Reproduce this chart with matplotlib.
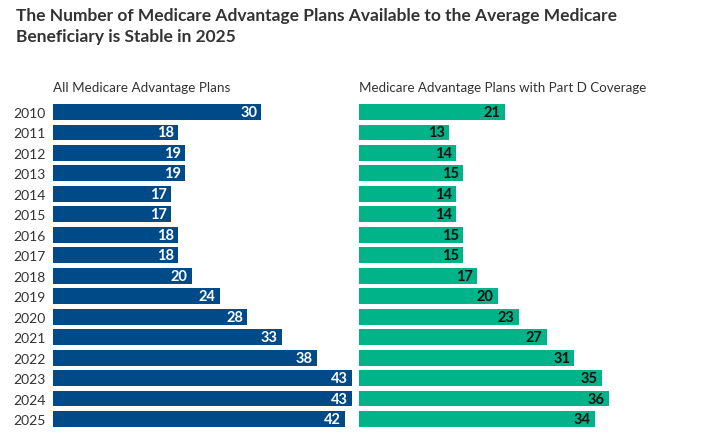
import matplotlib
matplotlib.use("Agg")
import matplotlib.pyplot as plt

plt.rcParams['font.family'] = ['Lato', 'DejaVu Sans']

years = [str(y) for y in range(2010, 2026)]
all_plans = [30, 18, 19, 19, 17, 17, 18, 18, 20, 24, 28, 33, 38, 43, 43, 42]
partd_plans = [21, 13, 14, 15, 14, 14, 15, 15, 17, 20, 23, 27, 31, 35, 36, 34]

navy = '#004a87'
teal = '#00b388'
text_col = '#333333'

W, H = 715, 439
fig = plt.figure(figsize=(W / 100, H / 100), dpi=100)

top = 1 - 102.8 / H
bot = 1 - 430.2 / H
ax1 = fig.add_axes([53 / W, bot, 300 / W, top - bot])
ax2 = fig.add_axes([359 / W, bot, 300 / W, top - bot])

xmax = 43.2
for ax, vals, col, lab_col, sub, fs in [
    (ax1, all_plans, navy, 'white', 'All Medicare Advantage Plans', 9.7),
    (ax2, partd_plans, teal, '#111111', 'Medicare Advantage Plans with Part D Coverage', 9.6),
]:
    pos = range(len(years))
    ax.barh(pos, vals, height=0.78, color=col)
    ax.set_xlim(0, xmax)
    ax.set_ylim(len(years) - 0.5, -0.5)
    for i, v in enumerate(vals):
        ax.annotate(str(v), (v, i), xytext=(-3, 0), textcoords='offset points',
                    ha='right', va='center', color=lab_col, fontsize=10.5, fontweight='bold')
    for s in ax.spines.values():
        s.set_visible(False)
    ax.set_xticks([])
    ax.tick_params(axis='y', length=0)
    ax.text(0, -0.95, sub, ha='left', va='bottom', fontsize=fs, color=text_col)

ax1.set_yticks(range(len(years)))
ax1.set_yticklabels(years, fontsize=10, color=text_col)
ax1.tick_params(axis='y', pad=5.5)
ax2.set_yticks([])

fig.text(16 / W, 1 - 8 / H,
         'The Number of Medicare Advantage Plans Available to the Average Medicare\nBeneficiary is Stable in 2025',
         ha='left', va='top', fontsize=12.5, fontweight='bold', color=text_col, linespacing=1.4)

fig.savefig('out.png', dpi=100)
